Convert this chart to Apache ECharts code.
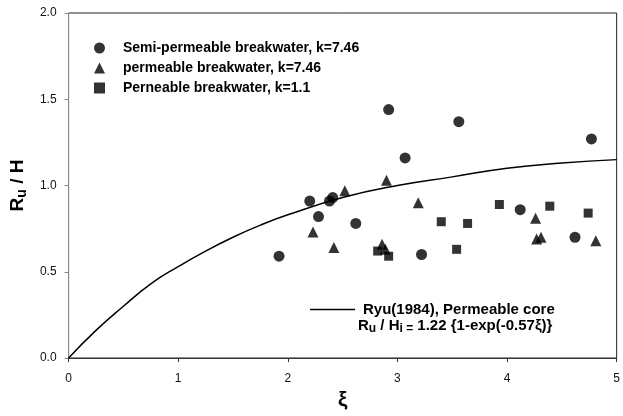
<!DOCTYPE html>
<html>
<head>
<meta charset="utf-8">
<script src="https://cdn.jsdelivr.net/npm/echarts@6/dist/echarts.min.js"></script>
<style>html,body{margin:0;padding:0;background:#fff}#c{width:623px;height:416px}</style>
</head>
<body>
<div id="c"></div>
<script>
// Semi-permeable breakwater, k=7.46 (circles)
var semiPermeable = [[1.92,0.59],[2.20,0.91],[2.28,0.82],[2.38,0.91],[2.41,0.93],[2.62,0.78],[2.92,1.44],[3.07,1.16],[3.22,0.60],[3.56,1.37],[4.12,0.86],[4.62,0.70],[4.77,1.27]];
// permeable breakwater, k=7.46 (triangles)
var permeable = [[2.23,0.73],[2.42,0.64],[2.52,0.97],[2.86,0.66],[2.89,0.63],[2.90,1.03],[3.19,0.90],[4.26,0.81],[4.27,0.69],[4.31,0.70],[4.81,0.68]];
// Perneable breakwater, k=1.1 (squares)
var perneable = [[2.82,0.62],[2.92,0.59],[3.40,0.79],[3.54,0.63],[3.64,0.78],[3.93,0.89],[4.39,0.88],[4.74,0.84]];
// Ryu (1984) curve
var ryuX = [0,0.25,0.5,0.75,1,1.25,1.5,1.75,2,2.5,3,3.5,4,4.5,5];
var ryuY = [0,0.16,0.30,0.43,0.53,0.62,0.70,0.77,0.83,0.93,1.00,1.05,1.10,1.13,1.15];
var xTicks = [0,1,2,3,4,5];
var yTicks = ['0.0','0.5','1.0','1.5','2.0'];

var names = ['Semi-permeable breakwater, k=7.46','permeable breakwater, k=7.46','Perneable breakwater, k=1.1'];
var ryuName = 'Ryu(1984), Permeable core';
var FONT = 'Liberation Sans, Arial, Helvetica, sans-serif';

var chart = echarts.init(document.getElementById('c'), null, {renderer:'canvas'});
chart.setOption({
  animation: false,
  backgroundColor: '#fff',
  grid: {left: 63, right: 4, top: 13, bottom: 53, show: true, borderColor: '#222', borderWidth: 1, containLabel: false},
  xAxis: {
    type: 'value', min: 0, max: 5, interval: 1,
    name: 'ξ', nameLocation: 'middle', nameGap: 32,
    nameTextStyle: {fontSize: 21, fontWeight: 'bold', color: '#000', fontFamily: FONT},
    axisLine: {lineStyle: {color: '#333', width: 1}},
    axisTick: {show: true, inside: false, length: 4, lineStyle: {color: '#333'}},
    axisLabel: {margin: 15, fontSize: 12, color: '#111', fontFamily: FONT,
      formatter: function(v){ return xTicks.indexOf(v) >= 0 ? String(v) : ''; }},
    splitLine: {show: false}
  },
  yAxis: {
    type: 'value', min: 0, max: 2, interval: 0.5,
    name: 'R{s|u} / H', nameLocation: 'middle', nameGap: 38, nameRotate: 90,
    nameTextStyle: {fontSize: 19, fontWeight: 'bold', color: '#000', fontFamily: FONT,
      rich: {s: {fontSize: 14, fontWeight: 'bold', color: '#000', fontFamily: FONT, padding: [9,0,0,0]}}},
    axisLine: {lineStyle: {color: '#888', width: 1}},
    axisTick: {show: true, inside: false, length: 4, lineStyle: {color: '#888'}},
    axisLabel: {margin: 12, fontSize: 12, color: '#111', fontFamily: FONT,
      formatter: function(v){ return yTicks[Math.round(v/0.5)]; }},
    splitLine: {show: false}
  },
  legend: [{
    data: names, orient: 'vertical', left: 89, top: 36,
    itemWidth: 11, itemHeight: 11, itemGap: 6,
    textStyle: {fontSize: 14, fontWeight: 'bold', color: '#000', fontFamily: FONT, padding: [0,0,0,13]},
    selectedMode: false
  },{
    data: [{name: ryuName, icon: 'rect'}], orient: 'vertical', left: 305, top: 297,
    itemWidth: 45, itemHeight: 1.5,
    textStyle: {fontSize: 15, fontWeight: 'bold', color: '#000', fontFamily: FONT, padding: [0,0,0,3]},
    selectedMode: false
  }],
  graphic: [{
    type: 'text', left: 358, top: 318,
    style: {
      text: 'R{s|u} / H{s|i =} 1.22 {1-exp(-0.57ξ)}',
      fontSize: 15, fontWeight: 'bold', fill: '#000', fontFamily: FONT,
      rich: {s: {fontSize: 12, fontWeight: 'bold', fill: '#000', fontFamily: FONT, padding: [7,0,0,0]}}
    }
  }],
  series: [{
    name: names[0], type: 'scatter', data: semiPermeable,
    symbol: 'circle', symbolSize: 11, itemStyle: {color: '#000'}
  },{
    name: names[1], type: 'scatter', data: permeable,
    symbol: 'triangle', symbolSize: 11, itemStyle: {color: '#000'}
  },{
    name: names[2], type: 'scatter', data: perneable,
    symbol: 'rect', symbolSize: 9, itemStyle: {color: '#000'}
  },{
    name: ryuName, type: 'line', smooth: true, showSymbol: false, symbol: 'none',
    data: ryuX.map(function(x,i){ return [x, ryuY[i]]; }),
    lineStyle: {color: '#000', width: 1.5}, itemStyle: {color: '#000'}
  }]
});
</script>
</body>
</html>
